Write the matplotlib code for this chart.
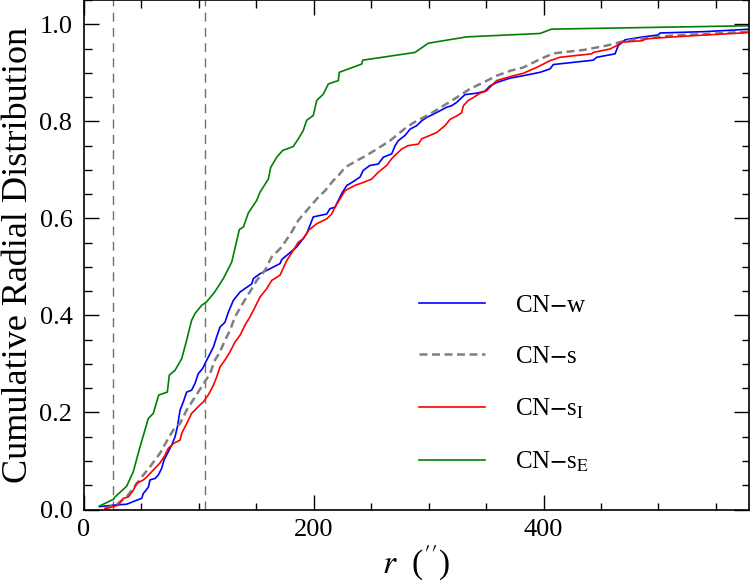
import matplotlib
matplotlib.use("Agg")
from matplotlib import pyplot as plt
from matplotlib.ticker import MultipleLocator

plt.rcParams['font.family'] = ['Liberation Serif', 'DejaVu Serif']
plt.rcParams['mathtext.fontset'] = 'stix'

# CN-w (blue)
r_w = [14, 26, 37.5, 45, 50.6, 52, 56.4, 57.8, 62.2, 65, 68, 70, 73.7, 76.7, 79.6, 81.6, 84, 86.8,
       89.7, 94, 97, 99.8, 103.7, 105.7, 110, 113, 115.8, 118.7, 123, 126, 130.3, 136, 142, 146.3,
       147.7, 153.5, 162, 171, 172.3, 185.4, 194, 199.8, 211.5, 214.3, 218.7, 224.5, 229, 232,
       240.4, 243.3, 249, 256.3, 260.7, 268, 271, 273.7, 279.6, 284, 289.7, 294, 298.4, 307,
       315.8, 320, 324.5, 329, 331.7, 342, 349, 353.5, 359.3, 371, 382.4, 397, 405.7, 408.5,
       443.3, 446.3, 462.2, 465, 471, 484, 499.8, 501.3, 542, 580]
cdf_w = [0.006, 0.009, 0.011, 0.018, 0.023, 0.033, 0.046, 0.061, 0.064, 0.071, 0.085, 0.102, 0.119,
         0.133, 0.150, 0.170, 0.205, 0.222, 0.242, 0.246, 0.260, 0.280, 0.291, 0.301, 0.321, 0.335,
         0.356, 0.376, 0.386, 0.407, 0.431, 0.448, 0.458, 0.465, 0.476, 0.486, 0.496, 0.507, 0.515,
         0.541, 0.568, 0.603, 0.609, 0.620, 0.623, 0.651, 0.668, 0.672, 0.685, 0.699, 0.709, 0.712,
         0.726, 0.733, 0.750, 0.760, 0.771, 0.784, 0.791, 0.801, 0.808, 0.818, 0.829, 0.832, 0.839,
         0.849, 0.855, 0.858, 0.862, 0.873, 0.880, 0.889, 0.894, 0.901, 0.908, 0.917, 0.926, 0.932,
         0.939, 0.956, 0.968, 0.973, 0.978, 0.982, 0.985, 0.990]

# CN-s (grey dashed)
r_s = [18.7, 28.9, 37.5, 43.3, 50.6, 57.8, 66.5, 72.9, 78.1, 83.9, 89.7, 97, 105.7, 110, 114.3,
       118.7, 123, 127.4, 131.7, 137.5, 141.9, 146.3, 150.6, 157.8, 163.5, 172.3, 181, 186.8,
       195.5, 202.8, 210, 217.2, 221.6, 227.4, 237.6, 246.3, 257.8, 266.5, 273.7, 281, 289.7,
       301.3, 312.9, 324.5, 336.1, 347.7, 359.3, 370.9, 382.4, 397, 408.5, 434.6, 454.9, 469.4,
       484, 512.9, 541.9, 580]
cdf_s = [0.002, 0.011, 0.026, 0.044, 0.067, 0.088, 0.116, 0.143, 0.164, 0.177, 0.205, 0.232, 0.264,
         0.280, 0.308, 0.325, 0.349, 0.369, 0.397, 0.421, 0.438, 0.455, 0.472, 0.493, 0.520, 0.541,
         0.572, 0.596, 0.620, 0.640, 0.657, 0.678, 0.688, 0.705, 0.719, 0.730, 0.747, 0.760, 0.774,
         0.788, 0.801, 0.815, 0.832, 0.849, 0.867, 0.880, 0.894, 0.904, 0.911, 0.928, 0.940, 0.947,
         0.956, 0.965, 0.970, 0.977, 0.980, 0.985]

# CN-s_I (red)
r_si = [18.7, 26, 30.3, 34.6, 39, 43.3, 46.3, 52, 55, 59.3, 62.2, 66.5, 70.9, 73.7, 78.1, 83.9,
        85.4, 89.7, 94, 99.8, 104.2, 108.5, 112.9, 115.8, 118.7, 123, 127.4, 131.7, 136.1, 140.4,
        144.8, 149.1, 153.5, 159.3, 163.6, 170.9, 176.7, 182.4, 186.8, 191.1, 195.5, 202.8, 211.5,
        215.8, 218.7, 223, 227.4, 236, 243.3, 250.6, 256.3, 263.6, 268, 272.3, 276.7, 282.4,
        291.1, 294.1, 301.3, 307.1, 314.3, 318.7, 324.5, 328.9, 330.3, 334.6, 339, 344.8, 350.6,
        355, 359.3, 370.9, 382.4, 394, 405.7, 414.3, 441.9, 443.3, 457.8, 463.6, 468, 485.4,
        489.7, 512.9, 541.9, 580]
cdf_si = [0.002, 0.006, 0.009, 0.023, 0.026, 0.040, 0.054, 0.061, 0.067, 0.078, 0.085, 0.096, 0.112,
          0.126, 0.136, 0.143, 0.157, 0.177, 0.198, 0.212, 0.222, 0.236, 0.256, 0.273, 0.294, 0.308,
          0.325, 0.345, 0.359, 0.380, 0.397, 0.417, 0.438, 0.455, 0.472, 0.483, 0.513, 0.534, 0.551,
          0.558, 0.575, 0.589, 0.599, 0.609, 0.623, 0.640, 0.657, 0.668, 0.674, 0.681, 0.695, 0.709,
          0.723, 0.733, 0.743, 0.750, 0.753, 0.764, 0.771, 0.777, 0.791, 0.804, 0.811, 0.818, 0.832,
          0.843, 0.849, 0.858, 0.863, 0.874, 0.884, 0.892, 0.899, 0.911, 0.925, 0.932, 0.939, 0.942,
          0.949, 0.956, 0.963, 0.966, 0.970, 0.974, 0.978, 0.983]

# CN-s_E (green)
r_se = [13.7, 26, 27.4, 37.5, 43.3, 48.5, 56.4, 60.7, 65.4, 72.9, 74.6, 79.6, 85.4, 89.7, 94, 97,
        102.8, 107, 114, 121.6, 128.9, 135.5, 139, 143.3, 150.6, 153.5, 160.7, 162.8, 168, 173.2,
        182.4, 186.8, 191.1, 194, 199.8, 202.8, 208.5, 212.9, 221.6, 222.4, 241.9, 242.8, 288.3,
        299.8, 333.2, 397, 407, 580]
cdf_se = [0.007, 0.021, 0.026, 0.048, 0.078, 0.124, 0.188, 0.198, 0.236, 0.242, 0.277, 0.287, 0.311,
          0.349, 0.390, 0.404, 0.421, 0.428, 0.448, 0.476, 0.510, 0.577, 0.582, 0.611, 0.637, 0.654,
          0.681, 0.705, 0.726, 0.740, 0.748, 0.764, 0.781, 0.802, 0.812, 0.843, 0.856, 0.877, 0.884,
          0.901, 0.918, 0.926, 0.942, 0.961, 0.974, 0.981, 0.990, 0.997]

vlines_r = [26, 106]

fig = plt.figure(figsize=(7.51, 5.83), dpi=100)
ax = fig.add_axes([0.1112, 0.126, 0.8866, 0.874])

for xv in vlines_r:
    ax.axvline(xv, color='#707070', lw=1.0, dashes=(6.5, 4.5))

ax.plot(r_w, cdf_w, color='blue', lw=1.2, label=r'CN$-$w')
ax.plot(r_s, cdf_s, color='#808080', lw=1.8, dashes=(3.2, 1.8), label=r'CN$-$s')
ax.plot(r_si, cdf_si, color='red', lw=1.2, label=r'CN$-$s$_{\rm I}$')
ax.plot(r_se, cdf_se, color='green', lw=1.2, label=r'CN$-$s$_{\rm E}$')

ax.set_xlim(0, 579)
ax.set_ylim(0, 1.05)
ax.xaxis.set_major_locator(MultipleLocator(200))
ax.xaxis.set_minor_locator(MultipleLocator(50))
ax.yaxis.set_major_locator(MultipleLocator(0.2))
ax.yaxis.set_minor_locator(MultipleLocator(0.05))
ax.yaxis.set_major_formatter(plt.FormatStrFormatter('%.1f'))
ax.tick_params(which='both', direction='in', top=True, right=True, labelsize=19, width=1.0)
ax.tick_params(which='major', length=10.5)
ax.tick_params(which='minor', length=5.4)
ax.tick_params(axis='y', pad=8)
ax.tick_params(axis='x', pad=7)
for sp in ax.spines.values():
    sp.set_linewidth(1.2)

ax.set_xlabel(r'$r$  ($^{\prime\prime}$)', fontsize=24, labelpad=2)
ax.set_ylabel('Cumulative Radial Distribution', fontsize=26, labelpad=3)

leg = ax.legend(loc='lower left', bbox_to_anchor=(0.47, 0.025), frameon=False, fontsize=18,
                handlelength=2.65, handletextpad=1.2, labelspacing=1.15)

fig.canvas.draw()
ax.get_xticklabels()[0].set_horizontalalignment('left')

fig.savefig('out.png', dpi=100)
